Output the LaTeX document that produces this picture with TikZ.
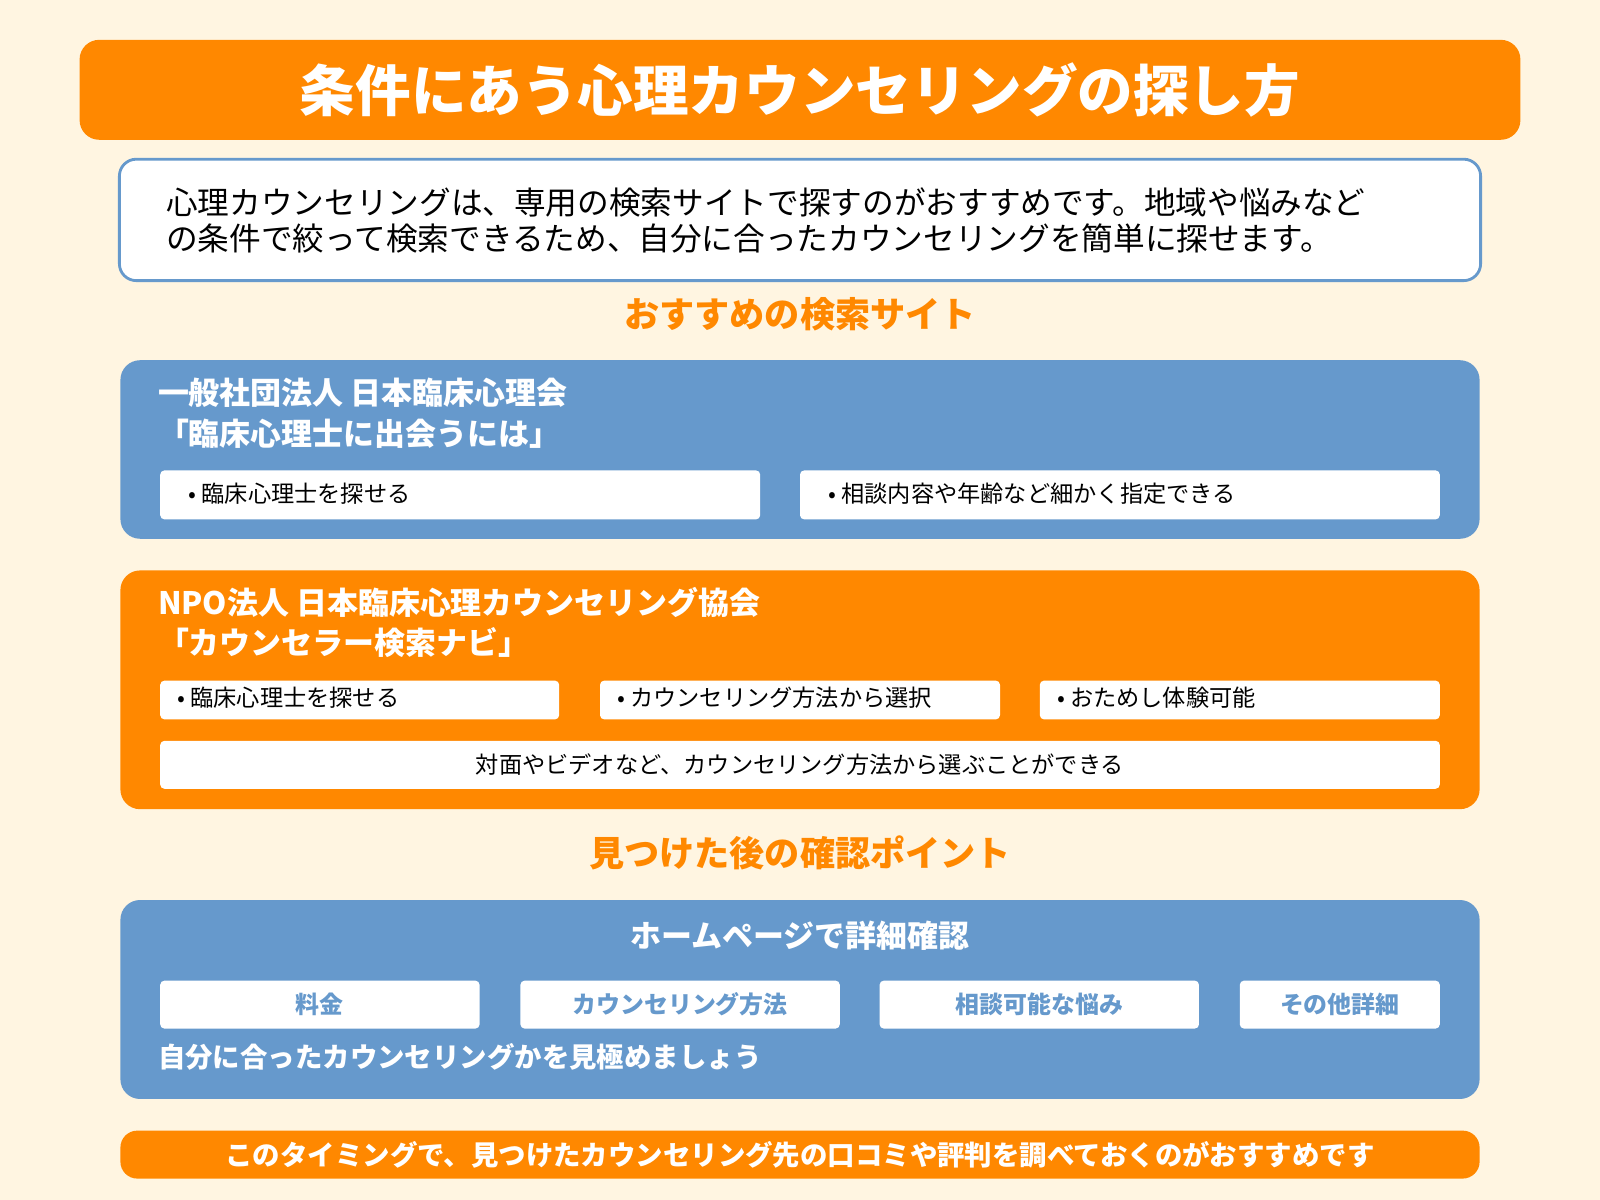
\documentclass[tikz,border=0pt]{standalone}
\usepackage{fontspec}
\setmainfont{Noto Sans CJK JP}
\definecolor{cream}{HTML}{FFF5E1}
\definecolor{orng}{HTML}{FF8800}
\definecolor{blu}{HTML}{6699CC}
\tikzset{
  panel/.style={rounded corners=14pt,inner sep=0pt},
  pill/.style={fill=white,rounded corners=3pt},
  pilltext/.style={font=\fontsize{16.5}{18}\selectfont,text=black,anchor=west},
  pillhead/.style={font=\bfseries\fontsize{17}{19}\selectfont,text=blu},
  boxtitle/.style={font=\bfseries\fontsize{22}{24}\selectfont,text=white,anchor=west},
  heading/.style={font=\bfseries\fontsize{25}{28}\selectfont,text=orng}
}
\begin{document}
\begin{tikzpicture}[x=0.0255cm,y=-0.0255cm]
\fill[cream] (0,0) rectangle (1568,1176);
\useasboundingbox (0,0) rectangle (1568,1176);
% title
\fill[orng,panel] (78,39) rectangle (1490,137);
\node[font=\bfseries\fontsize{39.5}{42}\selectfont,text=white] (title) at (784,88) {条件にあう心理カウンセリングの探し方};
% intro
\draw[blu,line width=2pt,fill=white,rounded corners=12pt] (117,156) rectangle (1451,275);
\node[anchor=west,align=left,font=\fontsize{22.5}{25.5}\selectfont] (intro) at (158,216)
  {心理カウンセリングは、専用の検索サイトで探すのがおすすめです。地域や悩みなど\\の条件で絞って検索できるため、自分に合ったカウンセリングを簡単に探せます。};
\node[heading] (head1) at (784,308) {おすすめの検索サイト};
% site 1
\fill[blu,panel] (118,353) rectangle (1450,528);
\node[boxtitle] (s1name) at (150,385) {一般社団法人 日本臨床心理会};
\node[boxtitle] (s1sub) at (150,425) {「臨床心理士に出会うには」};
\fill[pill] (157,461) rectangle (745,509);
\fill[pill] (784,461) rectangle (1411,509);
\node[pilltext] (s1a) at (180,484) {• 臨床心理士を探せる};
\node[pilltext] (s1b) at (807,484) {• 相談内容や年齢など細かく指定できる};
% site 2
\fill[orng,panel] (118,559) rectangle (1450,793);
\node[boxtitle] (s2name) at (150,590) {NPO法人 日本臨床心理カウンセリング協会};
\node[boxtitle] (s2sub) at (150,630) {「カウンセラー検索ナビ」};
\foreach \xa/\xb/\lab [count=\i] in {157/548/臨床心理士を探せる,588/980/カウンセリング方法から選択,1019/1411/おためし体験可能}{
  \fill[pill] (\xa,667) rectangle (\xb,705);
  \node[pilltext] (s2p\i) at (\xa+12,684) {• \lab};
}
\fill[pill] (157,726) rectangle (1411,773);
\node[font=\fontsize{16.5}{18}\selectfont] (s2wide) at (784,749) {対面やビデオなど、カウンセリング方法から選ぶことができる};
\node[heading] (head2) at (784,836) {見つけた後の確認ポイント};
% check
\fill[blu,panel] (118,882) rectangle (1450,1077);
\node[boxtitle,anchor=center] (hp) at (784,917) {ホームページで詳細確認};
\foreach \xa/\xb/\lab [count=\i] in {157/470/料金,510/823/カウンセリング方法,862/1175/相談可能な悩み,1215/1411/その他詳細}{
  \fill[pill] (\xa,961) rectangle (\xb,1008);
  \node[pillhead] (chk\i) at ({(\xa+\xb)/2},984) {\lab};
}
\node[boxtitle,font=\bfseries\fontsize{19.5}{22}\selectfont] (judge) at (150,1036) {自分に合ったカウンセリングかを見極めましょう};
% bottom
\fill[orng,rounded corners=12pt] (118,1108) rectangle (1450,1155);
\node[font=\bfseries\fontsize{19.5}{22}\selectfont,text=white] (tip) at (784,1132) {このタイミングで、見つけたカウンセリング先の口コミや評判を調べておくのがおすすめです};
\end{tikzpicture}
\end{document}
